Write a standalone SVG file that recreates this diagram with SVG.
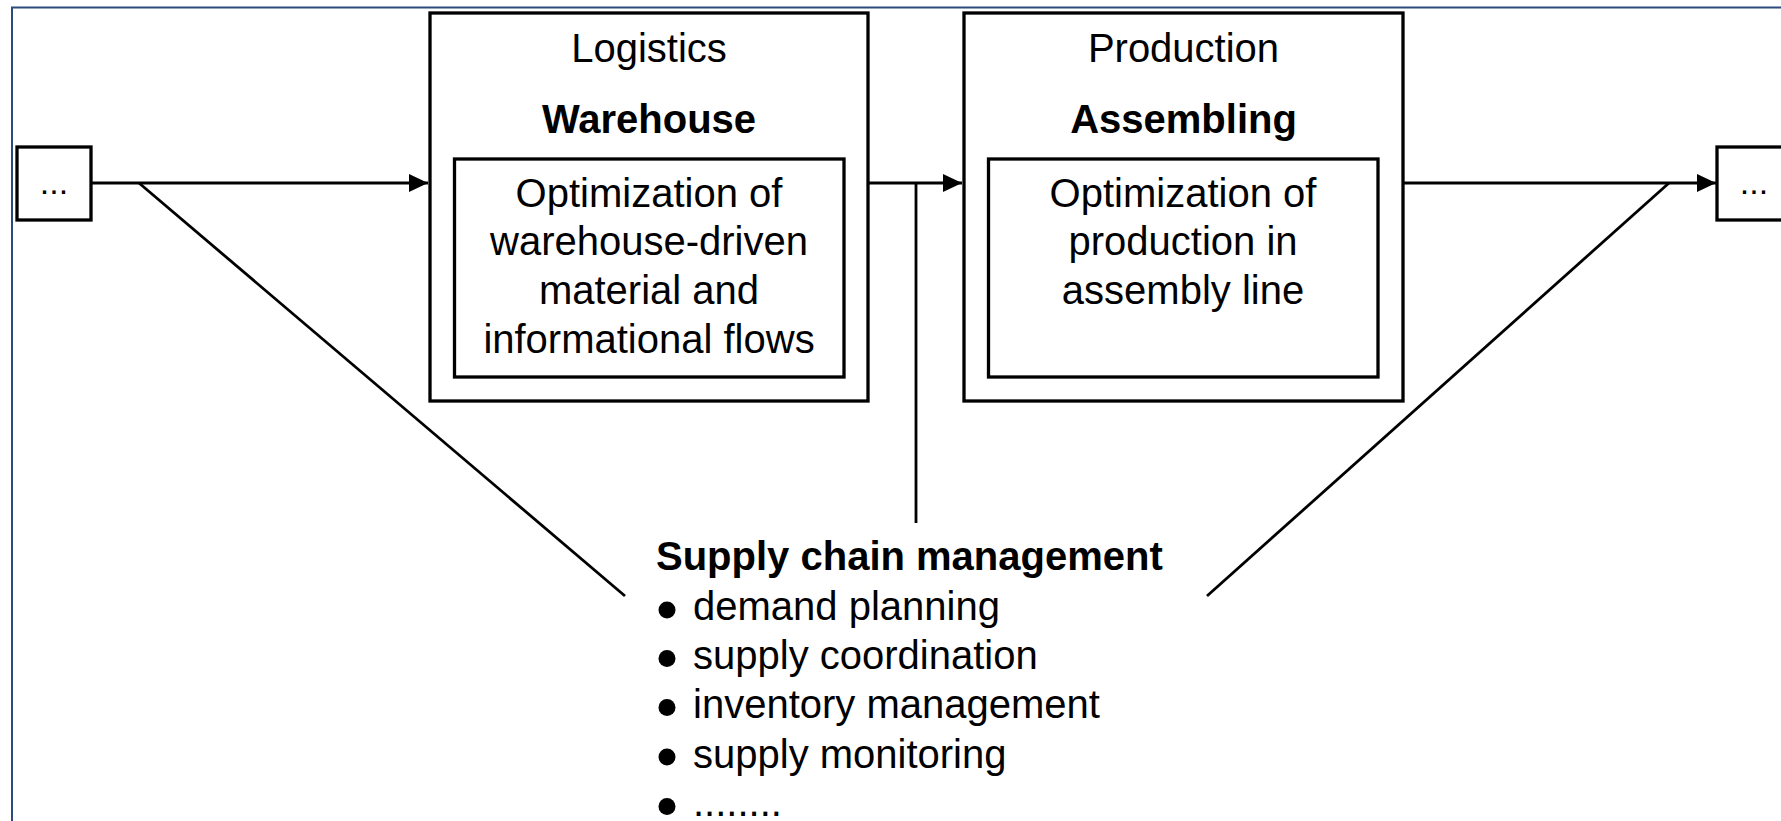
<svg xmlns="http://www.w3.org/2000/svg" width="1781" height="821" viewBox="0 0 1781 821">
<style>
  .box { fill: #ffffff; stroke: #000000; stroke-width: 3.3; }
  .ln { fill: none; stroke: #000000; stroke-width: 2.8; }
  .t { font-family: "Liberation Sans", Arial, sans-serif; font-size: 40px; fill: #000000; text-anchor: middle; }
  .b { font-weight: bold; }
  .l { text-anchor: start; }
  .dots { font-family: "Liberation Sans", Arial, sans-serif; font-size: 34px; fill: #000000; text-anchor: middle; }
</style>
<defs>
  <marker id="arr" markerUnits="userSpaceOnUse" markerWidth="20" markerHeight="20" refX="19" refY="9" orient="auto">
    <polygon points="0,0 19,9 0,18" fill="#000000"/>
  </marker>
</defs>
<rect x="0" y="0" width="1781" height="821" fill="#ffffff"/>
<rect x="12" y="7.5" width="1800" height="900" fill="none" stroke="#2c4a7c" stroke-width="2"/>

<g id="connectors">
  <line class="ln" x1="91" y1="183" x2="428" y2="183" marker-end="url(#arr)"/>
  <line class="ln" x1="868" y1="183" x2="962" y2="183" marker-end="url(#arr)"/>
  <line class="ln" x1="1403" y1="183" x2="1716" y2="183" marker-end="url(#arr)"/>
  <line class="ln" x1="916" y1="183" x2="916" y2="523"/>
  <line class="ln" x1="139" y1="183" x2="625" y2="596"/>
  <line class="ln" x1="1669" y1="183" x2="1207" y2="596"/>
</g>

<g id="start">
  <rect class="box" x="17" y="147" width="74" height="73"/>
  <text class="dots" x="54" y="194">...</text>
</g>

<g id="logistics">
  <rect class="box" x="430" y="13" width="438" height="388"/>
  <text class="t" x="649" y="62">Logistics</text>
  <text class="t b" x="649" y="133">Warehouse</text>
  <rect class="box" x="454.5" y="159" width="389.5" height="218"/>
  <text class="t" x="649" y="207">Optimization of</text>
  <text class="t" x="649" y="255">warehouse-driven</text>
  <text class="t" x="649" y="304">material and</text>
  <text class="t" x="649" y="353">informational flows</text>
</g>

<g id="production">
  <rect class="box" x="964" y="13" width="439" height="388"/>
  <text class="t" x="1183.5" y="62">Production</text>
  <text class="t b" x="1183.5" y="133">Assembling</text>
  <rect class="box" x="988.5" y="159" width="389.5" height="218"/>
  <text class="t" x="1183" y="207">Optimization of</text>
  <text class="t" x="1183" y="255">production in</text>
  <text class="t" x="1183" y="304">assembly line</text>
</g>

<g id="end">
  <rect class="box" x="1717" y="147" width="74" height="73"/>
  <text class="dots" x="1754" y="194">...</text>
</g>

<g id="scm">
  <text class="t b l" x="656" y="570">Supply chain management</text>
  <circle cx="667" cy="610" r="8.5" fill="#000000"/>
  <text class="t l" x="693" y="620">demand planning</text>
  <circle cx="667" cy="658.5" r="8.5" fill="#000000"/>
  <text class="t l" x="693" y="669">supply coordination</text>
  <circle cx="667" cy="707.5" r="8.5" fill="#000000"/>
  <text class="t l" x="693" y="718">inventory management</text>
  <circle cx="667" cy="757" r="8.5" fill="#000000"/>
  <text class="t l" x="693" y="768">supply monitoring</text>
  <circle cx="667" cy="806.5" r="8.5" fill="#000000"/>
  <text class="t l" x="693" y="816">........</text>
</g>
</svg>
